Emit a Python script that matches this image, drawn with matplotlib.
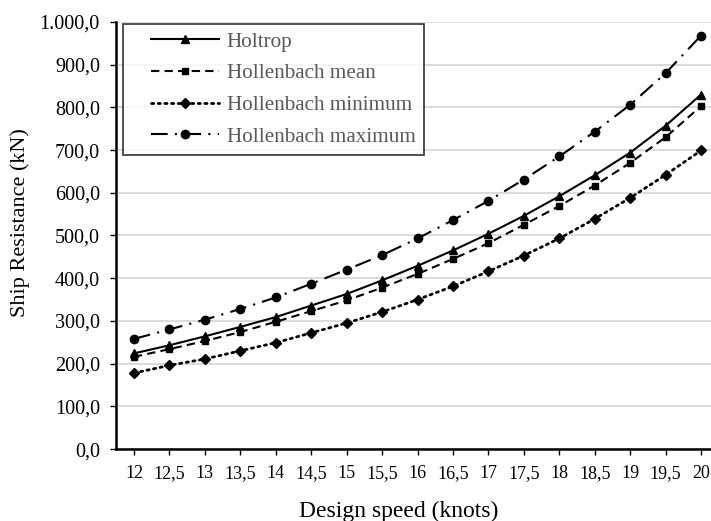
import matplotlib
matplotlib.use('Agg')
import matplotlib.pyplot as plt
from matplotlib.ticker import FuncFormatter
from matplotlib.legend_handler import HandlerLine2D

# design speeds (knots) and resistance values (kN)
speeds = ['12', '12,5', '13', '13,5', '14', '14,5', '15', '15,5', '16',
          '16,5', '17', '17,5', '18', '18,5', '19', '19,5', '20']
holtrop = [224, 243, 264, 286, 309, 336, 363, 395, 429, 465, 504, 546, 592, 641, 694, 757, 830]
holl_mean = [216, 234, 253, 274, 298, 323, 348, 378, 410, 445, 482, 525, 569, 617, 670, 730, 803]
holl_min = [178, 196, 211, 230, 249, 272, 295, 321, 350, 381, 416, 453, 493, 539, 588, 642, 699]
holl_max = [258, 280, 303, 328, 355, 387, 420, 454, 493, 536, 581, 631, 685, 743, 806, 880, 968]

plt.rcParams['font.family'] = ['Liberation Serif', 'DejaVu Serif']

fig = plt.figure(figsize=(7.11, 5.21), dpi=100)
ax = fig.add_axes([0.163, 0.138, 0.837, 0.82])

x = list(range(len(speeds)))
l1, = ax.plot(x, holtrop, color='black', lw=1.5, ls='-', marker='^', ms=6, label='Holtrop')
l2, = ax.plot(x, holl_mean, color='black', lw=1.5, ls=(0, (4, 2.5)), marker='s', ms=5,
              label='Hollenbach mean')
l3, = ax.plot(x, holl_min, color='black', lw=2, ls=(0, (0.8, 1.6)), dash_capstyle='round',
              marker='D', ms=5.5, label='Hollenbach minimum')
l4, = ax.plot(x, holl_max, color='black', lw=1.5, ls=(0, (8, 3.5, 1, 3.5)), marker='o', ms=6,
              label='Hollenbach maximum')

ax.set_xlim(-0.51, 16.28)
ax.set_ylim(0, 1000)
ax.set_xticks(x)
ax.set_xticklabels(speeds)
ax.set_yticks(range(0, 1001, 100))
ax.yaxis.set_major_formatter(FuncFormatter(
    lambda v, p: '{:,.1f}'.format(v).replace(',', 'X').replace('.', ',').replace('X', '.')))

ax.grid(axis='y', color='#d9d9d9', lw=1.3)
ax.set_axisbelow(True)
for s in ['top', 'right']:
    ax.spines[s].set_visible(False)
for s in ['left', 'bottom']:
    ax.spines[s].set_linewidth(1.8)
ax.tick_params(axis='both', direction='out', length=4.5, width=1)
ax.tick_params(axis='y', labelsize=14.5, pad=7)
ax.tick_params(axis='x', labelsize=13, pad=7)

ax.set_xlabel('Design speed (knots)', fontsize=17, labelpad=8)
ax.set_ylabel('Ship Resistance (kN)', fontsize=16, labelpad=6)
ax.xaxis.set_label_coords(0.476, -0.12)
ax.yaxis.set_label_coords(-0.145, 0.53)

hmap = {l: HandlerLine2D(xpad=0.95) for l in (l1, l2, l3, l4)}
leg = ax.legend(loc='upper left', bbox_to_anchor=(0.012, 0.995), fontsize=15.2, frameon=True,
                fancybox=False, edgecolor='black', handlelength=4.15, handletextpad=0.38,
                labelspacing=0.56, borderpad=0.38, borderaxespad=0.0, handler_map=hmap)
leg.get_frame().set_linewidth(1.2)
for t in leg.get_texts():
    t.set_color('#595959')

fig.savefig('out.png', dpi=100)
